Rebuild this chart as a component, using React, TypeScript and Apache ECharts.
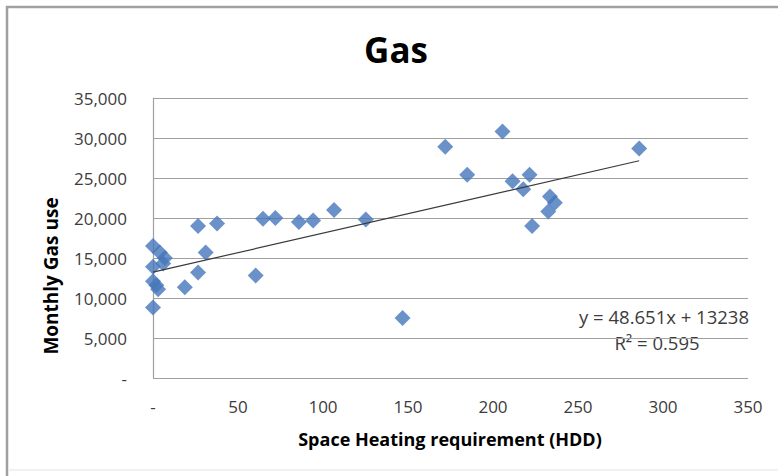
import React, { useEffect, useRef } from "react";
import * as echarts from "echarts";

const hddValues: number[] = [
  0, 4, 7, 6, 0, 0, 2, 3, 0,
  18.7, 26.5, 26.5, 31, 37.7, 60.4, 64.7, 72, 85.8, 94.2, 106.5,
  125.2, 146.8, 171.9, 184.8, 205.6, 211.5, 217.8, 221.5, 223,
  233.5, 236.4, 232.5, 286,
];
const gasValues: number[] = [
  16500, 15700, 15000, 14300, 13900, 12100, 11600, 11100, 8800,
  11350, 13180, 19000, 15700, 19300, 12800, 19900, 20000, 19500, 19700, 21000,
  19800, 7500, 28900, 25400, 30800, 24600, 23600, 25400, 19000,
  22700, 21900, 20800, 28700,
];
const trendX: number[] = [0, 286];
const trendY: number[] = [13238, 27152];
const equationText = "y = 48.651x + 13238";
const r2Text = "R\u00B2 = 0.595";
const chartTitle = "Gas";
const xTitle = "Space Heating requirement (HDD)";
const yTitle = "Monthly Gas use";

const FONT = "'Open Sans', 'Noto Sans', sans-serif";

export default function App() {
  const ref = useRef<HTMLDivElement>(null);
  useEffect(() => {
    if (!ref.current) return;
    const chart = echarts.init(ref.current, null, { renderer: "svg" });
    const points = hddValues.map((x, i) => [x, gasValues[i]]);
    const trend = trendX.map((x, i) => [x, trendY[i]]);
    chart.setOption({
      animation: false,
      backgroundColor: "#ffffff",
      grid: { left: 153, top: 98, right: 30, bottom: 98, containLabel: false },
      xAxis: {
        type: "value",
        min: 0,
        max: 350,
        interval: 50,
        axisLine: { show: false },
        axisTick: { show: false },
        splitLine: { show: false },
        axisLabel: {
          margin: 20,
          color: "#3c3c3c",
          fontFamily: FONT,
          fontSize: 17,
          formatter: (v: number) => (v === 0 ? "-" : String(v)),
        },
      },
      yAxis: {
        type: "value",
        min: 0,
        max: 35000,
        interval: 5000,
        axisLine: { show: true, lineStyle: { color: "#a0a0a0", width: 1.2 } },
        axisTick: { show: false },
        splitLine: { show: true, lineStyle: { color: "#a0a0a0", width: 1.2 } },
        axisLabel: {
          margin: 26,
          color: "#3c3c3c",
          fontFamily: FONT,
          fontSize: 17,
          formatter: (v: number) => (v === 0 ? "-" : v.toLocaleString("en-US")),
        },
      },
      series: [
        {
          type: "line",
          data: trend,
          symbol: "none",
          lineStyle: { color: "#3a3a3a", width: 1.2 },
          z: 3,
        },
        {
          type: "scatter",
          data: points,
          symbol: "diamond",
          symbolSize: 16,
          itemStyle: { color: "#4677ba" },
          z: 2,
        },
      ],
      graphic: [
        {
          type: "rect",
          shape: { x: 7, y: 7, width: 900, height: 900 },
          style: { fill: "none", stroke: "#a0a0a0", lineWidth: 2.5 },
          silent: true,
        },
        {
          type: "line",
          shape: { x1: 8, y1: 470, x2: 778, y2: 470 },
          style: { stroke: "#ececec", lineWidth: 1.5 },
          silent: true,
        },
        {
          type: "text",
          x: 396,
          y: 49,
          style: {
            text: chartTitle,
            fontFamily: FONT,
            fontWeight: "bold",
            fontSize: 35,
            fill: "#000000",
            align: "center",
            verticalAlign: "middle",
          },
        },
        {
          type: "text",
          x: 450,
          y: 439,
          style: {
            text: xTitle,
            fontFamily: FONT,
            fontWeight: "bold",
            fontSize: 18,
            fill: "#000000",
            align: "center",
            verticalAlign: "middle",
          },
        },
        {
          type: "text",
          x: 51,
          y: 276,
          rotation: Math.PI / 2,
          style: {
            text: yTitle,
            fontFamily: FONT,
            fontWeight: "bold",
            fontSize: 19,
            fill: "#000000",
            align: "center",
            verticalAlign: "middle",
          },
        },
        {
          type: "text",
          x: 749,
          y: 316,
          style: {
            text: equationText,
            fontFamily: FONT,
            fontSize: 18.5,
            fill: "#3c3c3c",
            align: "right",
            verticalAlign: "middle",
          },
        },
        {
          type: "text",
          x: 657,
          y: 342,
          style: {
            text: r2Text,
            fontFamily: FONT,
            fontSize: 18.5,
            fill: "#3c3c3c",
            align: "center",
            verticalAlign: "middle",
          },
        },
      ],
    });
    return () => chart.dispose();
  }, []);
  return (
    <div
      ref={ref}
      style={{ position: "fixed", left: 0, top: 0, width: 778, height: 476 }}
    />
  );
}
